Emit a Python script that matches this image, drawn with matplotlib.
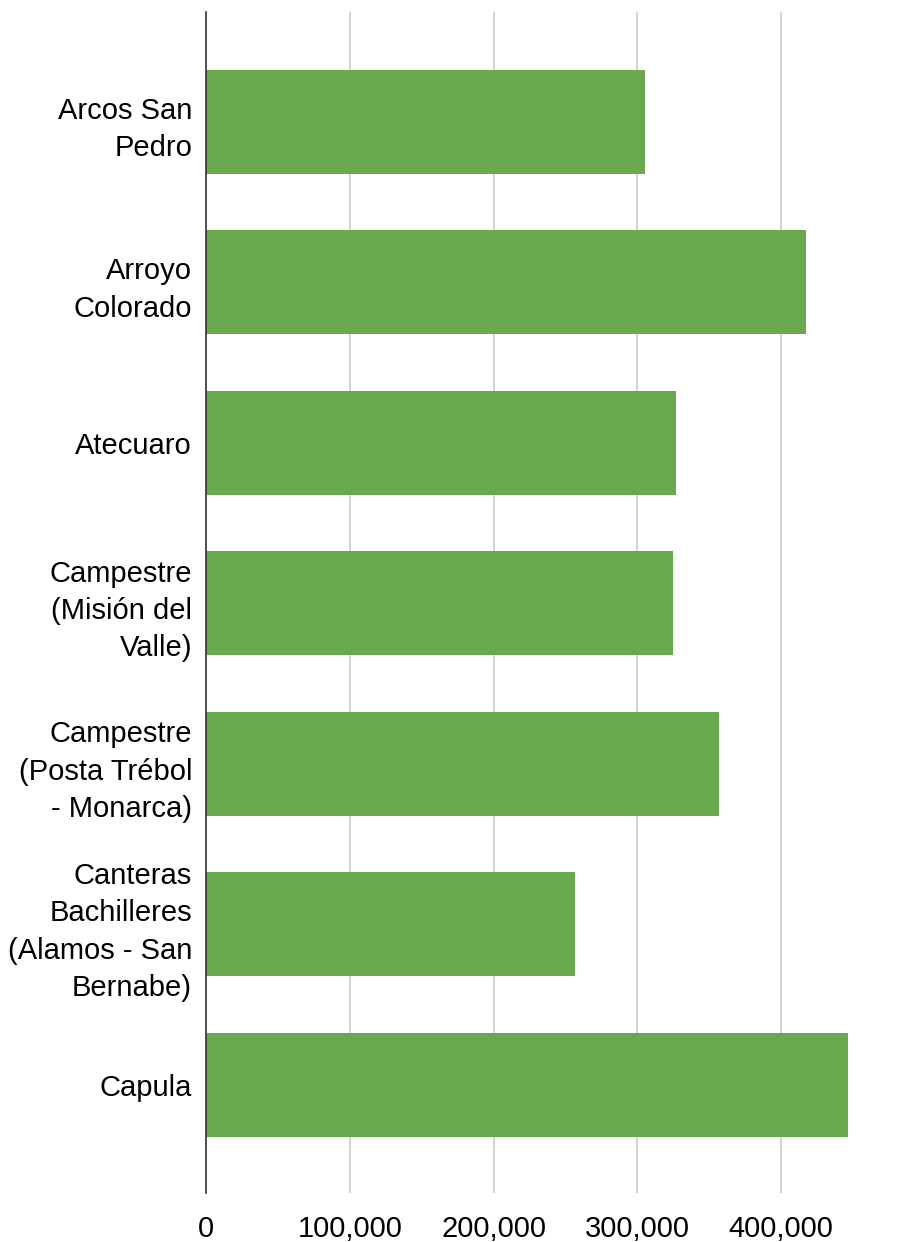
import numpy as np
import matplotlib
matplotlib.use('agg')
from matplotlib import pyplot as plt
from matplotlib.ticker import FuncFormatter

categories = ["Arcos San\nPedro", "Arroyo\nColorado", "Atecuaro",
              "Campestre\n(Misión del\nValle)", "Campestre\n(Posta Trébol\n- Monarca)",
              "Canteras\nBachilleres\n(Alamos - San\nBernabe)", "Capula"]
values = [305000, 417000, 327000, 325000, 357000, 256500, 446500]
x_ticks = [0, 100000, 200000, 300000, 400000]

GREEN = '#6aa84f'

plt.rcParams['font.family'] = ['Liberation Sans', 'DejaVu Sans']

fig = plt.figure(figsize=(9.11, 12.42), dpi=100)
ax = fig.add_axes([206 / 911, 49 / 1242, 647 / 911, 1181 / 1242])

y = np.arange(len(categories))
ax.barh(y, values, height=0.648, color=GREEN, zorder=3)

ax.set_xlim(0, 450000)
ax.set_ylim(6.673, -0.685)
ax.set_xticks(x_ticks)
ax.xaxis.set_major_formatter(FuncFormatter(lambda v, p: '{:,.0f}'.format(v)))
ax.set_yticks(y)
ax.set_yticklabels(categories, fontsize=21, ha='right', linespacing=1.42)
ax.tick_params(axis='x', length=0, labelsize=21, pad=16)
ax.tick_params(axis='y', length=0, pad=10)

ax.grid(axis='x', color='#cccccc', linewidth=1.2, zorder=0)
for s in ['top', 'right', 'bottom']:
    ax.spines[s].set_visible(False)
ax.spines['left'].set_color('#333333')
ax.spines['left'].set_linewidth(1.2)
ax.spines['left'].set_zorder(4)

fig.savefig('out.png', dpi=100, facecolor='white')
